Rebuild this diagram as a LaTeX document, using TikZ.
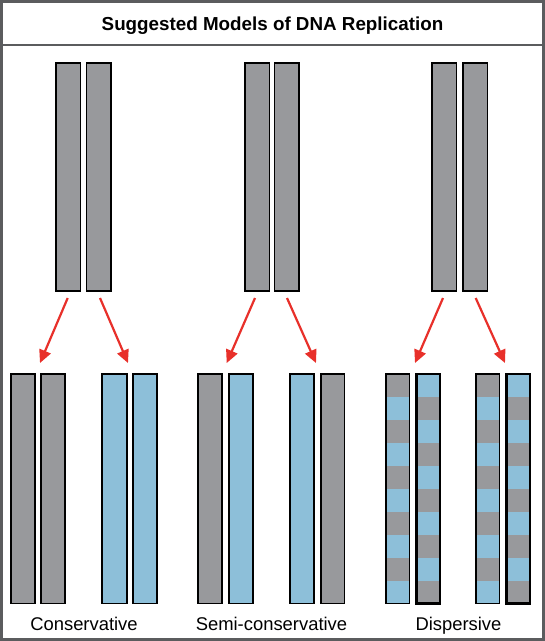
\documentclass[tikz,border=0pt]{standalone}
\usepackage{fontspec}
\setmainfont{Liberation Sans}
\usetikzlibrary{arrows.meta}
\definecolor{strandgray}{HTML}{98999C}
\definecolor{strandblue}{HTML}{8DBFD9}
\definecolor{framegray}{HTML}{5B5C5E}
\definecolor{arrowred}{HTML}{E8302A}
\begin{document}
\begin{tikzpicture}[x=1pt,y=-1pt,
  strandbox/.style={draw=black,line width=1.8pt},
  oldstrand/.style={strandbox,fill=strandgray},
  newstrand/.style={strandbox,fill=strandblue},
  reparrow/.style={draw=arrowred,line width=2.2pt,-{Triangle[length=13pt,width=12pt]}},
  titletext/.style={font=\fontsize{18.8}{22}\selectfont\bfseries,anchor=base},
  modellabel/.style={font=\fontsize{18.4}{22}\selectfont,anchor=base}]
\useasboundingbox (0,0) rectangle (545,641);
\fill[white] (0,0) rectangle (545,641);
% frame
\draw[framegray,line width=3pt] (1.5,1.5) rectangle (543.5,639.5);
\draw[framegray,line width=2.5pt] (0,44.8) -- (545,44.8);
\node[titletext] (title) at (272.5,30.5) {Suggested Models of DNA Replication};
% parent strands
\foreach \xa in {56,86.5,245,274.5,432,463} {
  \draw[oldstrand] (\xa,63) rectangle ({\xa+24.5},291);
}
% conservative
\draw[oldstrand] (10.7,374) rectangle (35,603.5);
\draw[oldstrand] (41,374) rectangle (65,603.5);
\draw[newstrand] (102,374) rectangle (127,603.5);
\draw[newstrand] (132.7,374) rectangle (156.7,603.5);
% semi-conservative
\draw[oldstrand] (198,374) rectangle (222,603.5);
\draw[newstrand] (229,374) rectangle (253,603.5);
\draw[newstrand] (290,374) rectangle (314,603.5);
\draw[oldstrand] (320.7,374) rectangle (344.5,603.5);
% dispersive
\foreach \xa/\first/\second/\lw in {386/strandgray/strandblue/1.8, 416.5/strandblue/strandgray/2.2, 476/strandgray/strandblue/1.8, 506.5/strandblue/strandgray/2.2} {
  \fill[\first] (\xa,374) rectangle ({\xa+23.5},603.5);
  \foreach \i in {1,3,...,9} {
    \fill[\second] (\xa,{374+\i*22.95}) rectangle ({\xa+23.5},{374+(\i+1)*22.95});
  }
  \draw[black,line width=\lw pt] (\xa,374) rectangle ({\xa+23.5},603.5);
}
% arrows
\coordinate (s1) at (67.7,298);  \coordinate (e1) at (40,363);
\coordinate (s2) at (100,298);   \coordinate (e2) at (128,363);
\coordinate (s3) at (255,298);   \coordinate (e3) at (226.7,363);
\coordinate (s4) at (287,298);   \coordinate (e4) at (316,363);
\coordinate (s5) at (443,298);   \coordinate (e5) at (415,363);
\coordinate (s6) at (475.7,298); \coordinate (e6) at (505,363);
\foreach \k in {1,...,6} { \draw[reparrow] (s\k) -- (e\k); }
% labels
\node[modellabel] (lcons) at (84,630.5) {Conservative};
\node[modellabel] (lsemi) at (271.5,630.5) {Semi-conservative};
\node[modellabel] (ldisp) at (458.5,630.5) {Dispersive};
\end{tikzpicture}
\end{document}
